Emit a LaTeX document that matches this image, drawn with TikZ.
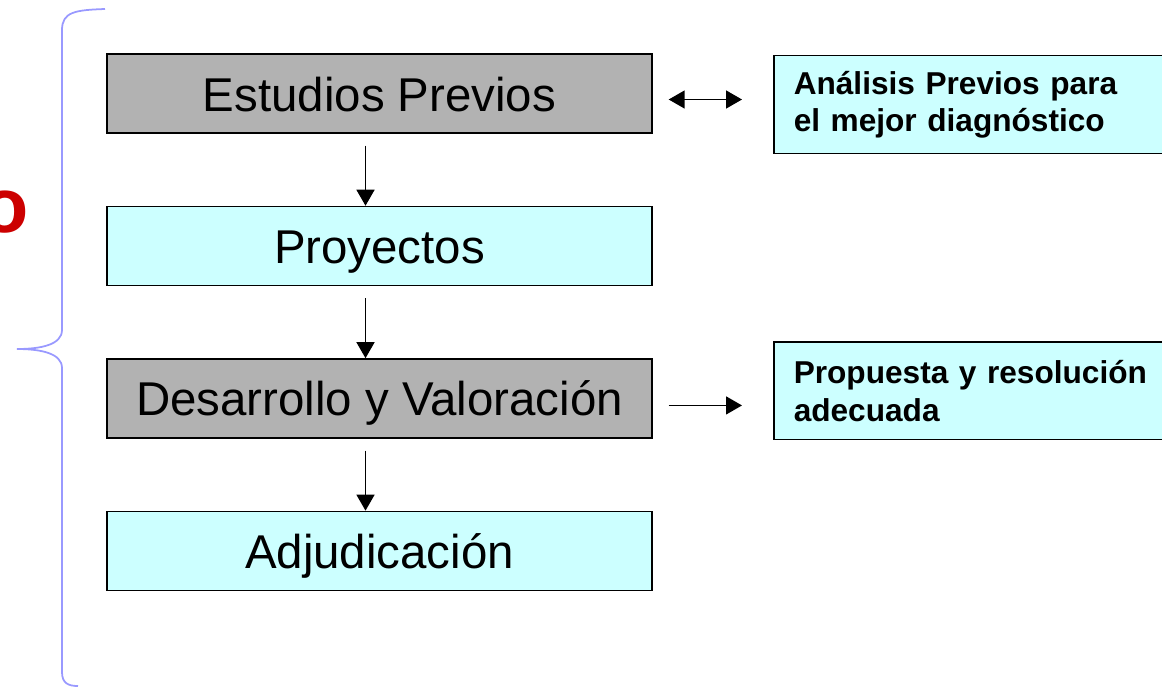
\documentclass[tikz,border=0pt]{standalone}
\usepackage{fontspec}
\setmainfont{Liberation Sans}
\usetikzlibrary{arrows.meta,calc,positioning}
\definecolor{grisbox}{RGB}{178,178,178}
\definecolor{cianbox}{RGB}{204,255,255}
\definecolor{llave}{RGB}{153,153,255}
\definecolor{rojo}{RGB}{204,0,0}
\tikzset{
etapa/.style={
  rectangle,
  line width=0.85pt,
  inner sep=0pt,
  minimum width=10.9cm,
  minimum height=1.58cm,
  text height=0.9cm,
  text depth=0.2cm,
  font=\fontsize{27}{32}\selectfont,
  draw=black,
  }
}
\tikzset{
nota/.style={
  rectangle,
  line width=0.85pt,
  anchor=north west,
  inner xsep=0.4cm,
  text width=7.4cm,
  minimum height=1.96cm,
  align=left,
  font=\fontsize{18}{21.6}\selectfont\bfseries,
  draw=black,
  fill=cianbox,
  }
}
\tikzset{
myline/.style={
  line width=0.85pt,
  -{Triangle[length=3.2mm,width=3.6mm]}
  }
}

\begin{document}
\begin{tikzpicture}[x=0.02cm,y=-0.02cm]
    \useasboundingbox (0,0) rectangle (1162,687);
    \begin{scope}[node distance=1.44cm]
    % left brace
    \draw[draw=llave, line width=1pt] (105,9) .. controls (75,10) and (62,12) .. (62,30) -- (62,330)
        .. controls (62,345) and (40,349) .. (17,349) .. controls (40,349) and (62,353) .. (62,368)
        -- (62,672) .. controls (62,683) and (68,686) .. (78,686);
    \node[anchor=base east, inner sep=0pt, text=rojo, font=\fontsize{44}{50}\selectfont\bfseries] (proceso) at (29,232) {o};

    % stages
    \node[etapa, fill=grisbox] (est_prev) at (379.5,93.5) {Estudios Previos};
    \node[etapa, fill=cianbox, below=of est_prev] (proy) {Proyectos};
    \node[etapa, fill=grisbox, below=of proy] (des_val) {Desarrollo y Valoración};
    \node[etapa, fill=cianbox, below=of des_val] (adj) {Adjudicación};

    % notes
    \node[nota] (analisis) at (773,55) {Análisis Previos para\\el mejor diagnóstico};
    \node[nota] (propuesta) at (773,341) {Propuesta y resolución\\adecuada};

    % stage edges
    \draw[myline] ([xshift=-0.28cm,yshift=-0.24cm]est_prev.south) -- ([xshift=-0.28cm]proy.north);
    \draw[myline] ([xshift=-0.28cm,yshift=-0.24cm]proy.south) -- ([xshift=-0.28cm]des_val.north);
    \draw[myline] ([xshift=-0.28cm,yshift=-0.24cm]des_val.south) -- ([xshift=-0.28cm]adj.north);

    % note edges
    \draw[myline, {Triangle[length=3.2mm,width=3.6mm]}-{Triangle[length=3.2mm,width=3.6mm]}] ($(est_prev.east)+(16,6)$) -- ($(analisis.west |- est_prev.east)+(-31,6)$);
    \draw[myline] ($(des_val.east)+(16,7)$) -- ($(propuesta.west |- des_val.east)+(-31,7)$);
    \end{scope}
\end{tikzpicture}
\end{document}
